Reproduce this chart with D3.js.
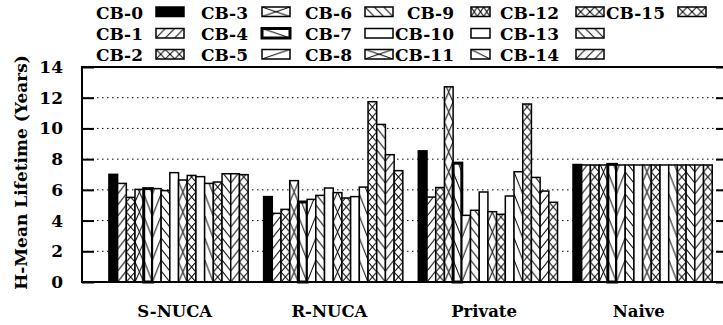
<!DOCTYPE html>
<html>
<head>
<meta charset="utf-8">
<script src="https://cdn.jsdelivr.net/npm/d3@7"></script>
<style>
body { margin: 0; background: #fff; }
text { font-family: "DejaVu Serif", serif; font-weight: bold; }
</style>
</head>
<body>
<div id="chart"></div>
<script>
// groups on the x axis and the 16 cache configurations
var groups = ["S-NUCA", "R-NUCA", "Private", "Naive"];
var series = ["CB-0", "CB-1", "CB-2", "CB-3", "CB-4", "CB-5", "CB-6", "CB-7",
              "CB-8", "CB-9", "CB-10", "CB-11", "CB-12", "CB-13", "CB-14", "CB-15"];

// H-mean lifetime in years, one value per CB
var sNuca   = [7.01, 6.42, 5.51, 6.03, 6.08, 6.08, 5.95, 7.12, 6.64, 6.94, 6.86, 6.42, 6.51, 7.05, 7.05, 6.99];
var rNuca   = [5.56, 4.47, 4.73, 6.60, 5.21, 5.38, 5.64, 6.12, 5.82, 5.47, 5.56, 6.18, 11.74, 10.26, 8.29, 7.25];
var priv    = [8.54, 5.53, 6.15, 12.71, 7.74, 4.34, 4.67, 5.86, 4.58, 4.41, 5.60, 7.18, 11.59, 6.81, 5.92, 5.19];
var naive   = [7.65, 7.62, 7.62, 7.62, 7.66, 7.62, 7.62, 7.62, 7.62, 7.62, 7.62, 7.62, 7.62, 7.62, 7.62, 7.62];

var yTicks = [0, 2, 4, 6, 8, 10, 12, 14];

// fill style of each CB (gnuplot-like patterns)
var fills = ["solid", "fwdDense", "xDense", "xSparse", "back", "fwd", "backDense", "empty",
             "xSparse", "xDense", "empty", "back", "xDense", "backDense", "fwdDense", "xDense"];

var values = [sNuca, rNuca, priv, naive];

var svgWidth = 723, svgHeight = 325;
var plotLeft = 82, plotRight = 728, plotTop = 67, plotBottom = 282;

var svg = d3.select("#chart")
  .append("svg")
    .attr("width", svgWidth)
    .attr("height", svgHeight);

var defs = svg.append("defs");

var x0 = d3.scaleLinear()
  .domain([-0.624, 3.552])
  .range([plotLeft, plotRight]);

var step = x0(1) - x0(0);

var x1 = d3.scaleBand()
  .domain(series)
  .range([-0.45 * step, 0.45 * step]);

var y = d3.scaleLinear()
  .domain([0, 14])
  .range([plotBottom, plotTop]);

var bw = x1.bandwidth();

// tile sizes: bars use tall narrow tiles, legend boxes use wider ones
var barTileH = {fwd: 22, back: 22, fwdDense: 11, backDense: 11, xSparse: 20, xDense: 10};

function addPattern(id, type, px, py, w, h) {
  if (type == "solid" || type == "empty") return;
  var p = defs.append("pattern")
    .attr("id", id)
    .attr("patternUnits", "userSpaceOnUse")
    .attr("x", px).attr("y", py)
    .attr("width", w).attr("height", h);
  p.append("rect").attr("width", w).attr("height", h).attr("fill", "#fff");
  var lines = [];
  if (type == "fwd" || type == "fwdDense" || type[0] == "x") lines.push([0, h, w, 0]);
  if (type == "back" || type == "backDense" || type[0] == "x") lines.push([0, 0, w, h]);
  lines.forEach(function(l) {
    p.append("line")
      .attr("x1", l[0]).attr("y1", l[1]).attr("x2", l[2]).attr("y2", l[3])
      .attr("stroke", "#000").attr("stroke-width", 1);
  });
}

function fillFor(type, id) {
  if (type == "solid") return "#000";
  if (type == "empty") return "#fff";
  return "url(#" + id + ")";
}

// grid lines
svg.append("g")
  .selectAll("line")
  .data(yTicks.filter(function(d) { return d > 0 && d < 14; }))
  .enter().append("line")
    .attr("x1", plotLeft).attr("x2", plotRight)
    .attr("y1", function(d) { return y(d); })
    .attr("y2", function(d) { return y(d); })
    .attr("stroke", "#000")
    .attr("stroke-width", 1)
    .attr("stroke-dasharray", "1.5,3.5");

// bars
var bars = [];
groups.forEach(function(g, gi) {
  series.forEach(function(s, si) {
    bars.push({g: gi, s: si, v: values[gi][si]});
  });
});

bars.forEach(function(d) {
  var t = fills[d.s];
  addPattern("p" + d.g + "_" + d.s, t, x0(d.g) + x1(series[d.s]), y(0), bw, barTileH[t]);
});

svg.append("g")
  .selectAll("rect")
  .data(bars)
  .enter().append("rect")
    .attr("x", function(d) { return x0(d.g) + x1(series[d.s]); })
    .attr("y", function(d) { return y(d.v); })
    .attr("width", bw)
    .attr("height", function(d) { return y(0) - y(d.v); })
    .attr("fill", function(d) { return fillFor(fills[d.s], "p" + d.g + "_" + d.s); })
    .attr("stroke", "#000")
    .attr("stroke-width", function(d) { return d.s == 4 ? 3 : 1.5; });

// frame
svg.append("rect")
  .attr("x", plotLeft).attr("y", plotTop)
  .attr("width", plotRight - plotLeft).attr("height", plotBottom - plotTop)
  .attr("fill", "none")
  .attr("stroke", "#000")
  .attr("stroke-width", 2);

// y axis, ticks inward
var yAxis = svg.append("g")
  .attr("transform", `translate(${plotLeft},0)`)
  .call(d3.axisLeft(y).tickValues(yTicks).tickSize(-12).tickPadding(19));
yAxis.select(".domain").remove();
yAxis.selectAll("line").attr("stroke-width", 2);
yAxis.selectAll("text").style("font-size", "17px").attr("fill", "#000");

var yAxisR = svg.append("g")
  .attr("transform", `translate(${plotRight},0)`)
  .call(d3.axisRight(y).tickValues(yTicks).tickSize(-12).tickFormat(""));
yAxisR.select(".domain").remove();
yAxisR.selectAll("line").attr("stroke-width", 2);

// x axis labels
var xAxis = svg.append("g")
  .attr("transform", `translate(${-bw / 2},${plotBottom})`)
  .call(d3.axisBottom(x0).tickValues([0, 1, 2, 3]).tickSize(0).tickPadding(23)
    .tickFormat(function(d) { return groups[d]; }));
xAxis.select(".domain").remove();
xAxis.selectAll("text").style("font-size", "16.5px").attr("fill", "#000");

// y title
svg.append("text")
  .attr("transform", "translate(27,172.5) rotate(-90)")
  .attr("text-anchor", "middle")
  .style("font-size", "17px")
  .text("H-Mean Lifetime (Years)");

// legend: 3 rows, filled column by column
var textRight = [143, 248, 352, 454, 559, 665];
var boxX = [156, 262, 365, 471, 576, 678];
var boxW = [28, 28, 28, 19, 28, 28];
var baselines = [18.5, 40, 61];
var boxH = 9.5;

var legend = svg.append("g");
series.forEach(function(s, i) {
  var c = Math.floor(i / 3), r = i % 3;
  var bx = boxX[c], by = baselines[r] - 11.5;
  var t = fills[i];
  var tileW = (t == "fwd" || t == "back" || t == "xSparse") ? boxW[c] : boxW[c] / 3;
  addPattern("lg" + i, t, bx, by, tileW, boxH);
  legend.append("text")
    .attr("x", textRight[c])
    .attr("y", baselines[r])
    .attr("text-anchor", "end")
    .style("font-size", "17px")
    .text(s);
  legend.append("rect")
    .attr("x", bx).attr("y", by)
    .attr("width", boxW[c]).attr("height", boxH)
    .attr("fill", fillFor(t, "lg" + i))
    .attr("stroke", "#000")
    .attr("stroke-width", i == 4 ? 3 : 1.5);
});
</script>
</body>
</html>
